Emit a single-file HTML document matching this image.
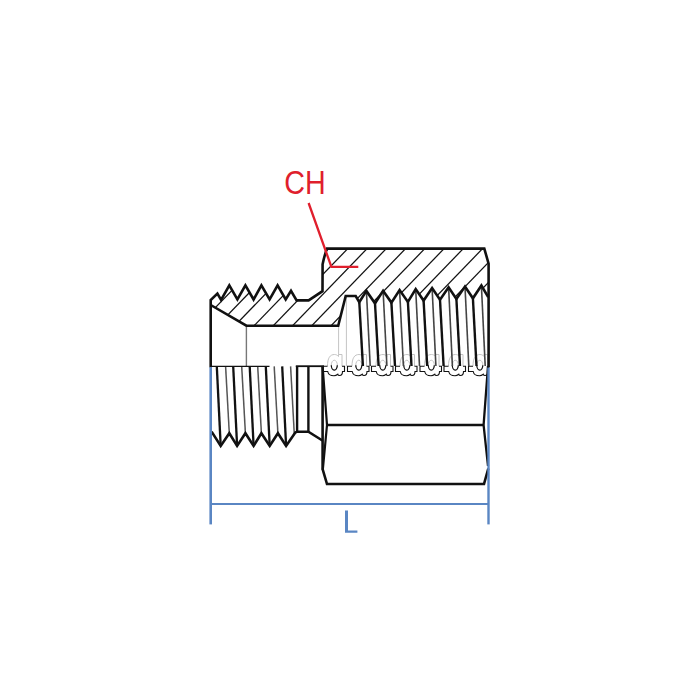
<!DOCTYPE html>
<html><head><meta charset="utf-8"><title>fitting</title>
<style>
html,body{margin:0;padding:0;background:#fff;}
body{width:700px;height:700px;overflow:hidden;font-family:"Liberation Sans",sans-serif;}
svg{display:block}
</style></head><body>
<svg width="700" height="700" viewBox="0 0 700 700">
<rect width="700" height="700" fill="#fff"/>
<defs><clipPath id="dc"><rect x="320" y="350" width="168.3" height="30"/></clipPath><clipPath id="hc"><polygon points="210.7,300.0 217.4,293.6 221.1,299.8 229.3,285.4 237.4,299.5 245.4,285.4 253.6,299.5 261.4,285.4 269.6,299.5 277.6,285.4 285.7,299.5 291.0,290.8 296.6,300.4 308.6,300.4 322.5,291.2 322.6,264.3 327.1,248.6 484.3,248.6 488.6,263.6 488.6,297.1 488.2,297.1 481.4,285.5 472.9,298.3 465.0,286.5 456.4,299.0 448.6,287.3 440.0,299.8 432.1,288.1 423.6,300.6 415.7,289.1 407.9,301.9 399.6,290.1 391.4,302.6 383.1,290.8 375.0,303.3 366.4,290.9 359.3,302.2 355.7,296.0 345.7,296.0 338.2,325.7 246.4,325.7 210.7,305.0"/></clipPath></defs>
<!-- hatch -->
<g clip-path="url(#hc)" stroke="#111" stroke-width="1.25" fill="none">
<line x1="182.9" y1="240" x2="91.1" y2="335"/><line x1="202.1" y1="240" x2="110.3" y2="335"/><line x1="221.4" y1="240" x2="129.6" y2="335"/><line x1="240.6" y1="240" x2="148.8" y2="335"/><line x1="259.9" y1="240" x2="168.1" y2="335"/><line x1="280.7" y1="240" x2="188.9" y2="335"/><line x1="300.2" y1="240" x2="208.4" y2="335"/><line x1="317.6" y1="240" x2="225.8" y2="335"/><line x1="336.9" y1="240" x2="245.1" y2="335"/><line x1="356.1" y1="240" x2="264.3" y2="335"/><line x1="375.4" y1="240" x2="283.6" y2="335"/><line x1="394.6" y1="240" x2="302.8" y2="335"/><line x1="413.9" y1="240" x2="322.1" y2="335"/><line x1="433.1" y1="240" x2="341.3" y2="335"/><line x1="452.4" y1="240" x2="360.6" y2="335"/><line x1="471.6" y1="240" x2="379.8" y2="335"/><line x1="490.9" y1="240" x2="399.1" y2="335"/><line x1="510.1" y1="240" x2="418.3" y2="335"/><line x1="529.4" y1="240" x2="437.6" y2="335"/>
</g>
<!-- thin light grey verticals -->
<g stroke="#c4c4c4" stroke-width="1" fill="none">
<line x1="338.6" y1="325" x2="338.6" y2="366"/>
<line x1="346.4" y1="296" x2="346.4" y2="366"/>
</g>
<line x1="246.4" y1="325.4" x2="246.4" y2="366.4" stroke="#777" stroke-width="1.4"/>
<!-- d symbols -->
<g clip-path="url(#dc)"><g transform="translate(323.0,0)"><path d="M0,366.2 H4.5 C4.5,358 7,354.5 11.5,354.5 C13,354.5 14.5,355.2 15.5,356.5 V354.5 H19 V366.2 H21.5 V371.5 H19.5 C19.5,374.5 18,375.5 16.5,375.5 C15.5,375.5 15,375 14.8,374.3 C13.5,375.3 12.3,375.8 11,375.8 C7.5,375.8 5.2,374 4.7,371.5 H0 Z" fill="#fff" stroke="none"/><path d="M4.5,366.2 C4.5,358 7,354.5 11.5,354.5 C13,354.5 14.5,355.2 15.5,356.5 V354.5 H19 V366.2" fill="none" stroke="#c4c4c4" stroke-width="1"/><path d="M4.5,366.2 H0 V371.5 H4.7 C5.2,374 7.5,375.8 11,375.8 C12.3,375.8 13.5,375.3 14.8,374.3 C15,375 15.5,375.5 16.5,375.5 C18,375.5 19.5,374.5 19.5,371.5 H21.5 V366.2 H19" fill="none" stroke="#111" stroke-width="1.1"/><ellipse cx="11.3" cy="365.2" rx="3" ry="5" fill="#fff" stroke="#c4c4c4" stroke-width="1"/><path d="M8.3,365.2 A3,5 0 0 0 14.3,365.2" fill="none" stroke="#111" stroke-width="1.2"/></g><g transform="translate(347.5,0)"><path d="M0,366.2 H4.5 C4.5,358 7,354.5 11.5,354.5 C13,354.5 14.5,355.2 15.5,356.5 V354.5 H19 V366.2 H21.5 V371.5 H19.5 C19.5,374.5 18,375.5 16.5,375.5 C15.5,375.5 15,375 14.8,374.3 C13.5,375.3 12.3,375.8 11,375.8 C7.5,375.8 5.2,374 4.7,371.5 H0 Z" fill="#fff" stroke="none"/><path d="M4.5,366.2 C4.5,358 7,354.5 11.5,354.5 C13,354.5 14.5,355.2 15.5,356.5 V354.5 H19 V366.2" fill="none" stroke="#c4c4c4" stroke-width="1"/><path d="M4.5,366.2 H0 V371.5 H4.7 C5.2,374 7.5,375.8 11,375.8 C12.3,375.8 13.5,375.3 14.8,374.3 C15,375 15.5,375.5 16.5,375.5 C18,375.5 19.5,374.5 19.5,371.5 H21.5 V366.2 H19" fill="none" stroke="#111" stroke-width="1.1"/><ellipse cx="11.3" cy="365.2" rx="3" ry="5" fill="#fff" stroke="#c4c4c4" stroke-width="1"/><path d="M8.3,365.2 A3,5 0 0 0 14.3,365.2" fill="none" stroke="#111" stroke-width="1.2"/></g><g transform="translate(371.5,0)"><path d="M0,366.2 H4.5 C4.5,358 7,354.5 11.5,354.5 C13,354.5 14.5,355.2 15.5,356.5 V354.5 H19 V366.2 H21.5 V371.5 H19.5 C19.5,374.5 18,375.5 16.5,375.5 C15.5,375.5 15,375 14.8,374.3 C13.5,375.3 12.3,375.8 11,375.8 C7.5,375.8 5.2,374 4.7,371.5 H0 Z" fill="#fff" stroke="none"/><path d="M4.5,366.2 C4.5,358 7,354.5 11.5,354.5 C13,354.5 14.5,355.2 15.5,356.5 V354.5 H19 V366.2" fill="none" stroke="#c4c4c4" stroke-width="1"/><path d="M4.5,366.2 H0 V371.5 H4.7 C5.2,374 7.5,375.8 11,375.8 C12.3,375.8 13.5,375.3 14.8,374.3 C15,375 15.5,375.5 16.5,375.5 C18,375.5 19.5,374.5 19.5,371.5 H21.5 V366.2 H19" fill="none" stroke="#111" stroke-width="1.1"/><ellipse cx="11.3" cy="365.2" rx="3" ry="5" fill="#fff" stroke="#c4c4c4" stroke-width="1"/><path d="M8.3,365.2 A3,5 0 0 0 14.3,365.2" fill="none" stroke="#111" stroke-width="1.2"/></g><g transform="translate(395.5,0)"><path d="M0,366.2 H4.5 C4.5,358 7,354.5 11.5,354.5 C13,354.5 14.5,355.2 15.5,356.5 V354.5 H19 V366.2 H21.5 V371.5 H19.5 C19.5,374.5 18,375.5 16.5,375.5 C15.5,375.5 15,375 14.8,374.3 C13.5,375.3 12.3,375.8 11,375.8 C7.5,375.8 5.2,374 4.7,371.5 H0 Z" fill="#fff" stroke="none"/><path d="M4.5,366.2 C4.5,358 7,354.5 11.5,354.5 C13,354.5 14.5,355.2 15.5,356.5 V354.5 H19 V366.2" fill="none" stroke="#c4c4c4" stroke-width="1"/><path d="M4.5,366.2 H0 V371.5 H4.7 C5.2,374 7.5,375.8 11,375.8 C12.3,375.8 13.5,375.3 14.8,374.3 C15,375 15.5,375.5 16.5,375.5 C18,375.5 19.5,374.5 19.5,371.5 H21.5 V366.2 H19" fill="none" stroke="#111" stroke-width="1.1"/><ellipse cx="11.3" cy="365.2" rx="3" ry="5" fill="#fff" stroke="#c4c4c4" stroke-width="1"/><path d="M8.3,365.2 A3,5 0 0 0 14.3,365.2" fill="none" stroke="#111" stroke-width="1.2"/></g><g transform="translate(420.0,0)"><path d="M0,366.2 H4.5 C4.5,358 7,354.5 11.5,354.5 C13,354.5 14.5,355.2 15.5,356.5 V354.5 H19 V366.2 H21.5 V371.5 H19.5 C19.5,374.5 18,375.5 16.5,375.5 C15.5,375.5 15,375 14.8,374.3 C13.5,375.3 12.3,375.8 11,375.8 C7.5,375.8 5.2,374 4.7,371.5 H0 Z" fill="#fff" stroke="none"/><path d="M4.5,366.2 C4.5,358 7,354.5 11.5,354.5 C13,354.5 14.5,355.2 15.5,356.5 V354.5 H19 V366.2" fill="none" stroke="#c4c4c4" stroke-width="1"/><path d="M4.5,366.2 H0 V371.5 H4.7 C5.2,374 7.5,375.8 11,375.8 C12.3,375.8 13.5,375.3 14.8,374.3 C15,375 15.5,375.5 16.5,375.5 C18,375.5 19.5,374.5 19.5,371.5 H21.5 V366.2 H19" fill="none" stroke="#111" stroke-width="1.1"/><ellipse cx="11.3" cy="365.2" rx="3" ry="5" fill="#fff" stroke="#c4c4c4" stroke-width="1"/><path d="M8.3,365.2 A3,5 0 0 0 14.3,365.2" fill="none" stroke="#111" stroke-width="1.2"/></g><g transform="translate(444.0,0)"><path d="M0,366.2 H4.5 C4.5,358 7,354.5 11.5,354.5 C13,354.5 14.5,355.2 15.5,356.5 V354.5 H19 V366.2 H21.5 V371.5 H19.5 C19.5,374.5 18,375.5 16.5,375.5 C15.5,375.5 15,375 14.8,374.3 C13.5,375.3 12.3,375.8 11,375.8 C7.5,375.8 5.2,374 4.7,371.5 H0 Z" fill="#fff" stroke="none"/><path d="M4.5,366.2 C4.5,358 7,354.5 11.5,354.5 C13,354.5 14.5,355.2 15.5,356.5 V354.5 H19 V366.2" fill="none" stroke="#c4c4c4" stroke-width="1"/><path d="M4.5,366.2 H0 V371.5 H4.7 C5.2,374 7.5,375.8 11,375.8 C12.3,375.8 13.5,375.3 14.8,374.3 C15,375 15.5,375.5 16.5,375.5 C18,375.5 19.5,374.5 19.5,371.5 H21.5 V366.2 H19" fill="none" stroke="#111" stroke-width="1.1"/><ellipse cx="11.3" cy="365.2" rx="3" ry="5" fill="#fff" stroke="#c4c4c4" stroke-width="1"/><path d="M8.3,365.2 A3,5 0 0 0 14.3,365.2" fill="none" stroke="#111" stroke-width="1.2"/></g><g transform="translate(468.5,0)"><path d="M0,366.2 H4.5 C4.5,358 7,354.5 11.5,354.5 C13,354.5 14.5,355.2 15.5,356.5 V354.5 H19 V366.2 H21.5 V371.5 H19.5 C19.5,374.5 18,375.5 16.5,375.5 C15.5,375.5 15,375 14.8,374.3 C13.5,375.3 12.3,375.8 11,375.8 C7.5,375.8 5.2,374 4.7,371.5 H0 Z" fill="#fff" stroke="none"/><path d="M4.5,366.2 C4.5,358 7,354.5 11.5,354.5 C13,354.5 14.5,355.2 15.5,356.5 V354.5 H19 V366.2" fill="none" stroke="#c4c4c4" stroke-width="1"/><path d="M4.5,366.2 H0 V371.5 H4.7 C5.2,374 7.5,375.8 11,375.8 C12.3,375.8 13.5,375.3 14.8,374.3 C15,375 15.5,375.5 16.5,375.5 C18,375.5 19.5,374.5 19.5,371.5 H21.5 V366.2 H19" fill="none" stroke="#111" stroke-width="1.1"/><ellipse cx="11.3" cy="365.2" rx="3" ry="5" fill="#fff" stroke="#c4c4c4" stroke-width="1"/><path d="M8.3,365.2 A3,5 0 0 0 14.3,365.2" fill="none" stroke="#111" stroke-width="1.2"/></g></g>
<!-- internal thread lines -->
<g stroke="#111" stroke-width="2.4" fill="none"><line x1="359.3" y1="302.2" x2="362.9" y2="366"/><line x1="375.0" y1="303.3" x2="378.6" y2="366"/><line x1="391.4" y1="302.6" x2="395.0" y2="366"/><line x1="407.9" y1="301.9" x2="411.5" y2="366"/><line x1="423.6" y1="300.6" x2="427.2" y2="366"/><line x1="440.0" y1="299.8" x2="443.6" y2="366"/><line x1="456.4" y1="299.0" x2="460.0" y2="366"/><line x1="472.9" y1="298.3" x2="476.5" y2="366"/></g>
<g stroke="#444" stroke-width="1.6" fill="none"><line x1="366.4" y1="290.9" x2="370.2" y2="366"/><line x1="383.1" y1="290.8" x2="386.9" y2="366"/><line x1="399.6" y1="290.1" x2="403.4" y2="366"/><line x1="415.7" y1="289.1" x2="419.5" y2="366"/><line x1="432.1" y1="288.1" x2="435.9" y2="366"/><line x1="448.6" y1="287.3" x2="452.4" y2="366"/><line x1="465.0" y1="286.5" x2="468.8" y2="366"/><line x1="481.4" y1="285.5" x2="485.2" y2="366"/></g>
<!-- lower-left thread lines -->
<g stroke="#111" stroke-width="2.3" fill="none"><line x1="216.8" y1="366.4" x2="220.7" y2="445.9"/><line x1="233.2" y1="366.4" x2="237.1" y2="445.9"/><line x1="249.7" y1="366.4" x2="253.6" y2="445.9"/><line x1="265.8" y1="366.4" x2="269.7" y2="445.9"/><line x1="282.2" y1="366.4" x2="286.1" y2="445.9"/></g>
<g stroke="#555" stroke-width="1.5" fill="none"><line x1="225.6" y1="366.4" x2="229.3" y2="433.2"/><line x1="241.7" y1="366.4" x2="245.4" y2="433.2"/><line x1="257.7" y1="366.4" x2="261.4" y2="433.2"/><line x1="274.2" y1="366.4" x2="277.9" y2="433.2"/><line x1="290.6" y1="366.4" x2="294.3" y2="434.3"/></g>
<!-- main outlines -->
<g stroke="#111" stroke-width="2.6" fill="none" stroke-linejoin="miter" stroke-linecap="butt">
<path d="M210.7,367.4 L210.7,300.0 L217.4,293.6 L221.1,299.8 L229.3,285.4 L237.4,299.5 L245.4,285.4 L253.6,299.5 L261.4,285.4 L269.6,299.5 L277.6,285.4 L285.7,299.5 L291.0,290.8 L296.6,300.4 L308.6,300.4 L322.5,291.2 L322.6,264.3 Q324.2,256.4 326.9,248.6 L484.3,248.6 L488.6,263.6 L488.6,367.4"/>
<polyline points="210.7,305.0 246.4,325.7 338.2,325.7 345.7,296.0 355.7,296.0 359.3,302.2 366.4,290.9 375.0,303.3 383.1,290.8 391.4,302.6 399.6,290.1 407.9,301.9 415.7,289.1 423.6,300.6 432.1,288.1 440.0,299.8 448.6,287.3 456.4,299.0 465.0,286.5 472.9,298.3 481.4,285.5 488.2,297.1"/>
</g>
<!-- center line bits -->
<g stroke="#111" fill="none">
<line x1="210.7" y1="366.4" x2="269.5" y2="366.4" stroke-width="1.3"/>
<line x1="295.8" y1="366.2" x2="324" y2="366.2" stroke-width="1.8"/>
</g>
<!-- lower-left outline -->
<g stroke="#111" stroke-width="2.6" fill="none" stroke-linejoin="miter">
<polyline points="211.6,431.6 220.7,445.9 229.3,433.2 237.1,445.9 245.4,433.2 253.6,445.9 261.4,433.2 269.7,445.9 277.9,433.2 286.1,445.9 295.3,432.6 297.1,431.7 308.4,431.7 322.4,440.5"/>
<line x1="297.1" y1="366" x2="297.1" y2="432.5" stroke-width="2.4"/>
<line x1="308.4" y1="366" x2="308.4" y2="432.5" stroke-width="2.4"/>
</g>
<!-- hex nut lower half -->
<g stroke="#111" fill="none" stroke-linejoin="miter">
<polyline points="322.6,366 322.6,469 327,484 484,484 488.3,468.5" stroke-width="2.6"/>
<polyline points="322.6,366 327,425 322.8,470" stroke-width="2.2"/>
<polyline points="488,366 483.6,425 488,466" stroke-width="2.3"/>
<line x1="327" y1="425" x2="483.6" y2="425" stroke-width="2.5"/>
</g>
<!-- redraw bits of right edge -->
<!-- blue dimension -->
<g stroke="#5a86c3" fill="none">
<line x1="210.7" y1="367.2" x2="210.7" y2="524.4" stroke-width="2.6"/>
<line x1="488.5" y1="367.6" x2="488.5" y2="524.4" stroke-width="2.4"/>
<line x1="210.7" y1="504" x2="488.5" y2="504" stroke-width="2.1"/>
</g>
<path d="M345,510.4 H348 V530.4 H357.4 V532.8 H345 Z" fill="#5a86c3"/>
<!-- CH leader -->
<polyline points="308.6,203 331.4,266.9 358.3,266.9" stroke="#e01f2d" stroke-width="2.3" fill="none"/>
<text x="284.3" y="193.9" font-family="Liberation Sans, sans-serif" font-size="32.4" fill="#e01f2d" textLength="41.5" lengthAdjust="spacingAndGlyphs">CH</text>
</svg>
</body></html>
